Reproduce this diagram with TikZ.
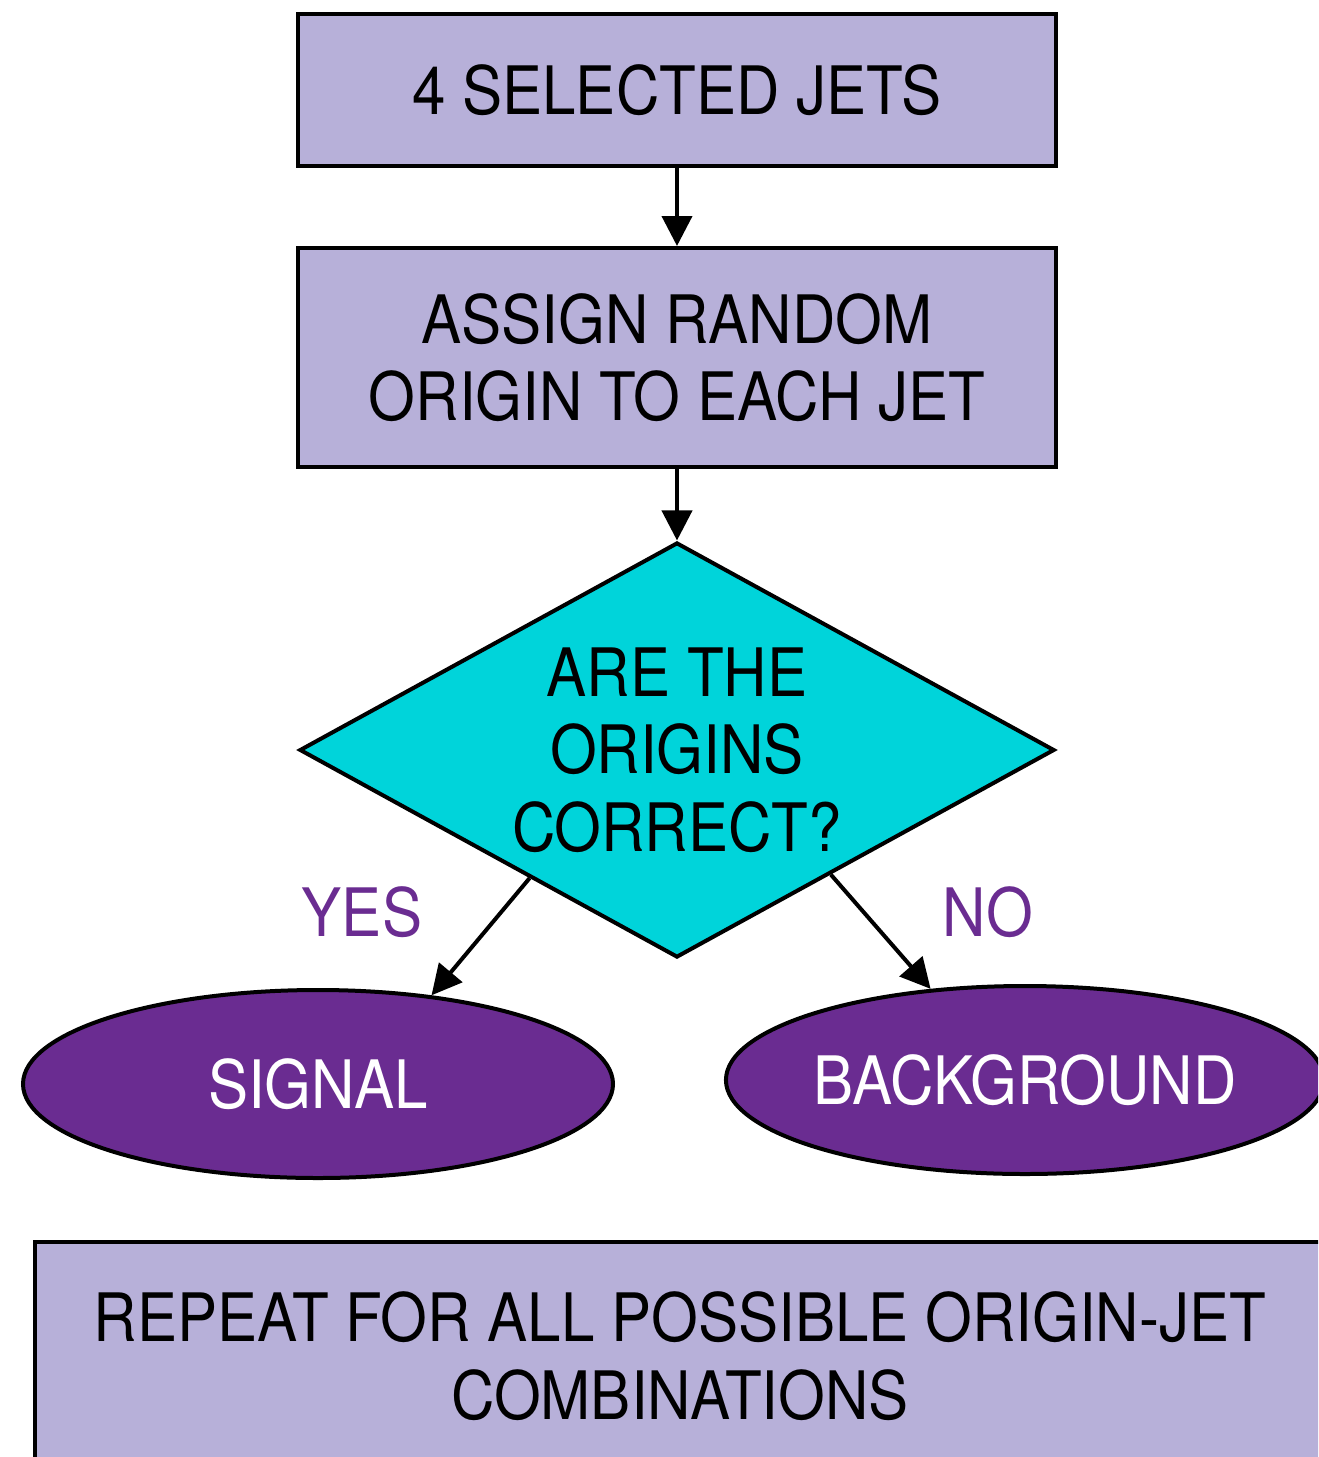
\documentclass[tikz,border=0pt]{standalone}
\usepackage{fontspec}
\setmainfont{TeX Gyre Heros}[FakeStretch=0.9]
\usetikzlibrary{shapes.geometric,arrows.meta}

\definecolor{boxlilac}{HTML}{B7B0D9}
\definecolor{decicyan}{HTML}{00D4DA}
\definecolor{outpurple}{HTML}{6A2C91}

\tikzset{
  stepbox/.style={draw,line width=0.04cm,fill=boxlilac,rectangle,
    minimum width=7.58cm,inner sep=0pt,align=center},
  decision/.style={draw,line width=0.04cm,fill=decicyan,diamond,aspect=1.82,
    minimum width=7.55cm,minimum height=4.15cm,inner sep=0pt,align=center},
  outcome/.style={draw,line width=0.04cm,fill=outpurple,ellipse,text=white,
    minimum width=5.9cm,minimum height=1.88cm,inner sep=0pt},
  flow/.style={line width=0.04cm,-{Triangle[width=0.3cm,length=0.3cm]}},
  answer/.style={text=outpurple}
}

\begin{document}
\begin{tikzpicture}[font=\fontsize{19}{22}\selectfont]
  \clip (0,0) rectangle (13.18,-14.57);
  \fill[white] (0,0) rectangle (13.18,-14.57);

  % main chain
  \node[stepbox,minimum height=1.52cm] (sel) at (6.77,-0.90) {4 SELECTED JETS};
  \node[stepbox,minimum height=2.19cm] (assign) at (6.77,-3.575)
    {ASSIGN RANDOM\\ORIGIN TO EACH JET};
  \node[decision] (check) at (6.77,-7.50) {ARE THE\\ORIGINS\\CORRECT?};

  % outcomes
  \node[outcome] (sig) at (3.18,-10.84) {SIGNAL};
  \node[outcome,minimum width=5.84cm] (bkg) at (10.25,-10.80) {BACKGROUND};

  \draw[flow] (sel) -- (assign);
  \draw[flow] (assign) -- (check);
  \draw[flow] (check.221) -- (sig.38);
  \draw[flow] (check.-39) -- (bkg.136);

  \node[answer] (yes) at (3.62,-9.12) {YES};
  \node[answer] (no) at (9.88,-9.12) {NO};

  % loop note at the bottom
  \node[stepbox,minimum width=12.90cm,minimum height=2.28cm] (repeat) at (6.80,-13.56)
    {REPEAT FOR ALL POSSIBLE ORIGIN-JET\\COMBINATIONS};
\end{tikzpicture}
\end{document}
